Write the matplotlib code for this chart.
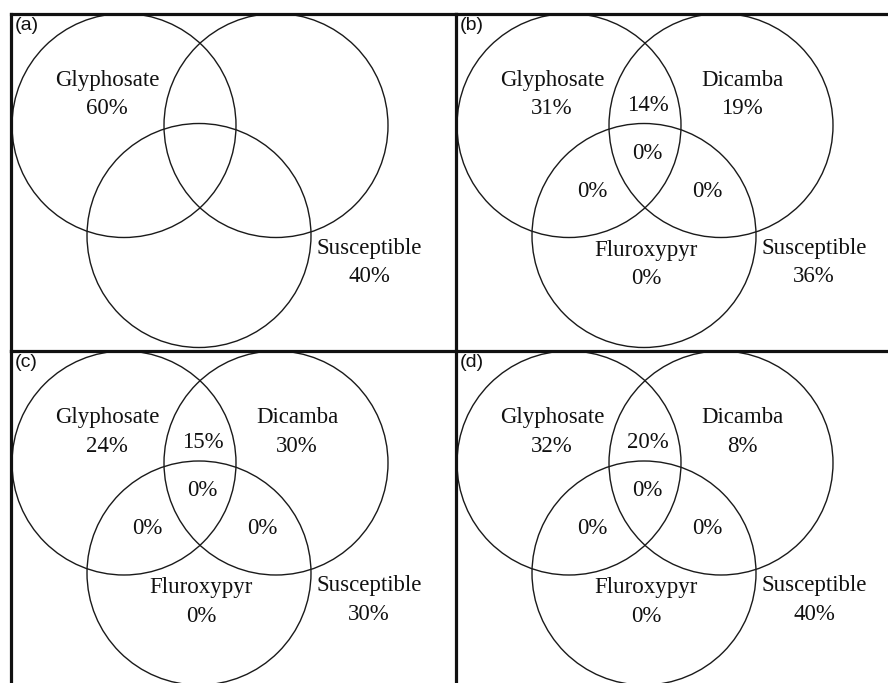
import matplotlib
matplotlib.use("Agg")
import matplotlib.pyplot as plt
from matplotlib.patches import Circle

# Share (%) of populations in each resistance class, one entry per panel
panels = ["(a)", "(b)", "(c)", "(d)"]
glyphosate = [60, 31, 24, 32]
dicamba = [None, 19, 30, 8]
fluroxypyr = [None, 0, 0, 0]
gly_dic = [None, 14, 15, 20]
gly_flu = [None, 0, 0, 0]
dic_flu = [None, 0, 0, 0]
all_three = [None, 0, 0, 0]
susceptible = [40, 36, 30, 40]

W, H = 888, 683
FX, FY = 11, 13.5          # outer frame corner (px)
MX, MY = 456, 351          # panel dividers (px)

# circle centres and radius in panel pixels
R = 112
c_gly = (113, 112)
c_dic = (265, 112)
c_flu = (188, 222)

serif = dict(family="Liberation Serif", fontsize=16.5, color="#111111",
             ha="center", va="center", linespacing=1.45)

fig = plt.figure(figsize=(W / 100, H / 100), dpi=100)

boxes = [(FX, FY, MX, MY), (MX, FY, W, MY), (FX, MY, MX, H), (MX, MY, W, H)]

for i, (x0, y0, x1, y1) in enumerate(boxes):
    ax = fig.add_axes([x0 / W, 1 - y1 / H, (x1 - x0) / W, (y1 - y0) / H])
    ax.set_xlim(0, x1 - x0)
    ax.set_ylim(y1 - y0, 0)
    ax.set_xticks([])
    ax.set_yticks([])
    for s in ("right", "bottom"):
        ax.spines[s].set_visible(False)
    for s in ("top", "left"):
        ax.spines[s].set_linewidth(2.3)
        ax.spines[s].set_color("#111111")

    for c in (c_gly, c_dic, c_flu):
        ax.add_patch(Circle(c, R, fill=False, lw=1.0, ec="#1a1a1a"))

    ax.text(4, 3, panels[i], family="Liberation Sans", fontsize=14,
            ha="left", va="top", color="#111111")

    ax.text(96, 81, f"Glyphosate\n{glyphosate[i]}%", **serif)
    ax.text(358, 249, f"Susceptible\n{susceptible[i]}%", **serif)
    if dicamba[i] is not None:
        ax.text(286, 81, f"Dicamba\n{dicamba[i]}%", **serif)
        ax.text(190, 251, f"Fluroxypyr\n{fluroxypyr[i]}%", **serif)
        ax.text(192, 92, f"{gly_dic[i]}%", **serif)
        ax.text(191, 140, f"{all_three[i]}%", **serif)
        ax.text(136, 178, f"{gly_flu[i]}%", **serif)
        ax.text(251, 178, f"{dic_flu[i]}%", **serif)

fig.savefig("out.png", dpi=100)
